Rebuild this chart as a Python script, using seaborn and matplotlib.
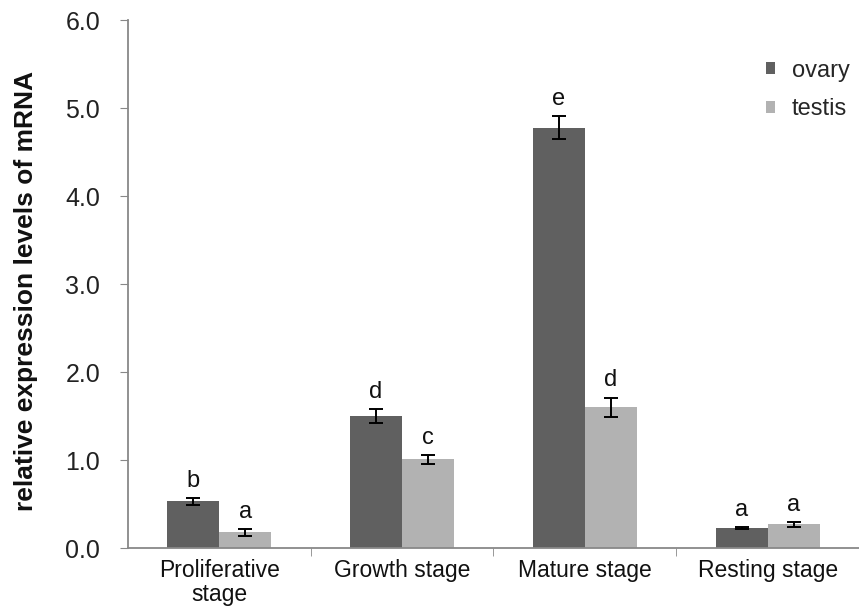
import pandas as pd
import matplotlib.pyplot as plt
import seaborn as sns
from matplotlib.ticker import FixedLocator

stages = ['Proliferative\nstage', 'Growth stage', 'Mature stage', 'Resting stage']
ovary = [0.53, 1.50, 4.78, 0.23]
ovary_err = [0.04, 0.08, 0.13, 0.01]
ovary_letters = ['b', 'd', 'e', 'a']
testis = [0.18, 1.01, 1.60, 0.27]
testis_err = [0.04, 0.05, 0.11, 0.03]
testis_letters = ['a', 'c', 'd', 'a']

df = pd.DataFrame({
    'stage': stages * 2,
    'tissue': ['ovary'] * 4 + ['testis'] * 4,
    'value': ovary + testis,
})

sns.set_style('white')
plt.rcParams['font.family'] = ['Liberation Sans', 'DejaVu Sans']

fig = plt.figure(figsize=(8.59, 6.11), dpi=100)
ax = fig.add_axes([0.149, 0.103, 0.851, 0.864])

sns.barplot(data=df, x='stage', y='value', hue='tissue',
            palette={'ovary': '#606060', 'testis': '#b2b2b2'},
            width=0.57, linewidth=0, errorbar=None, ax=ax)

# error bars and significance letters on top of each bar
errs = ovary_err + testis_err
letters = ovary_letters + testis_letters
vals = ovary + testis
for patch, v, e, t in zip(ax.patches[:8], vals, errs, letters):
    xc = patch.get_x() + patch.get_width() / 2
    ax.errorbar(xc, v, yerr=e, fmt='none', ecolor='black',
                elinewidth=1.4, capsize=4.7, capthick=1.4)
    ax.text(xc, v + e + 0.07, t, ha='center', va='bottom', fontsize=17, color='#111111')

ax.set_ylim(0, 6)
ax.set_xlim(-0.5, 3.5)
ax.set_yticks([0, 1, 2, 3, 4, 5, 6])
ax.set_yticklabels(['0.0', '1.0', '2.0', '3.0', '4.0', '5.0', '6.0'], fontsize=18, color='#222222')
ax.set_xticks(range(4))
ax.set_xticklabels(stages, fontsize=16.5, linespacing=1.05, color='#111111')
ax.xaxis.set_minor_locator(FixedLocator([0.5, 1.5, 2.5, 3.5]))
ax.tick_params(axis='x', which='major', length=0, pad=8)
ax.tick_params(axis='x', which='minor', length=6, direction='out', color='#888888', bottom=True)
ax.tick_params(axis='y', length=6, direction='out', color='#888888', left=True, pad=14)

ax.set_xlabel('')
ax.set_ylabel('relative expression levels of mRNA', fontsize=19, fontweight='bold', color='#111111')
ax.yaxis.set_label_coords(-0.123, 0.487)

sns.despine(ax=ax)
for side in ['left', 'bottom']:
    ax.spines[side].set_color('#888888')
    ax.spines[side].set_linewidth(1.3)

ax.legend(frameon=False, loc='upper left', bbox_to_anchor=(0.873, 0.925),
          borderpad=0, borderaxespad=0,
          fontsize=17, handlelength=0.38, handleheight=0.38,
          handletextpad=0.7, labelspacing=0.7, title=None)

plt.savefig('out.png', dpi=100)
